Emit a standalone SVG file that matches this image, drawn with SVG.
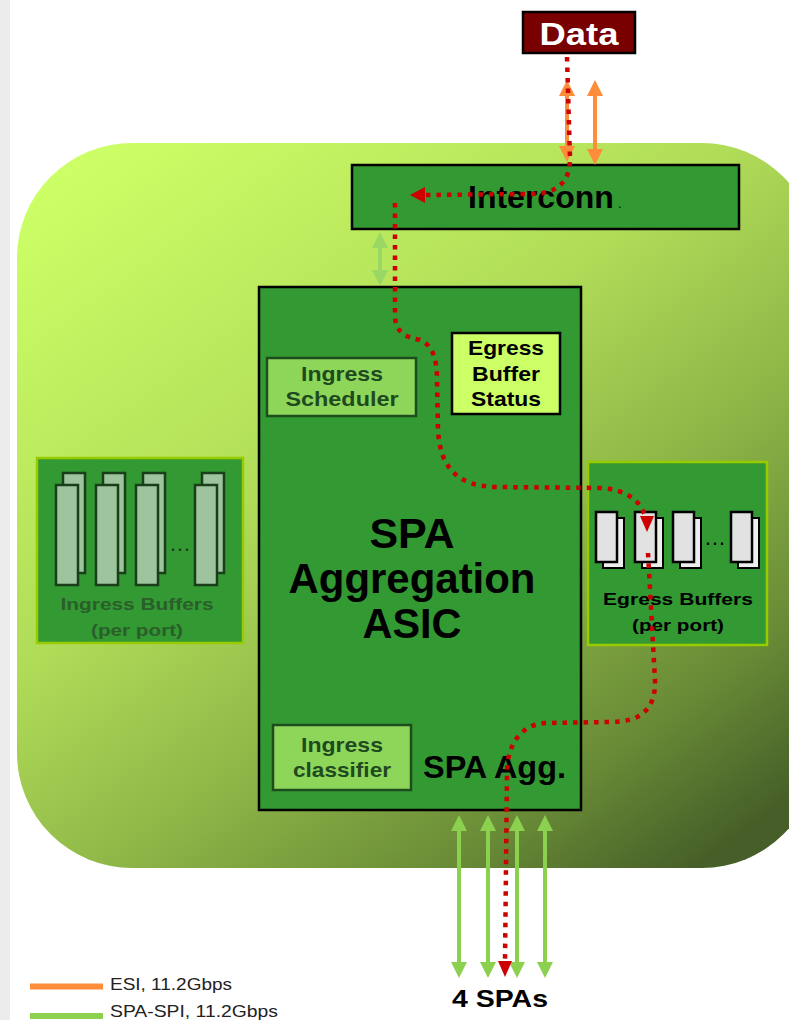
<svg xmlns="http://www.w3.org/2000/svg" width="789" height="1020" viewBox="0 0 789 1020">
<defs>
<linearGradient id="bg" gradientUnits="userSpaceOnUse" x1="100" y1="150" x2="650" y2="900">
<stop offset="0" stop-color="#ccff66"/>
<stop offset="0.4" stop-color="#b0dc58"/>
<stop offset="0.62" stop-color="#8fb848"/>
<stop offset="0.85" stop-color="#688a36"/>
<stop offset="1" stop-color="#465f28"/>
</linearGradient>
<marker id="ao" viewBox="0 0 16 16" refX="4" refY="8" markerWidth="16" markerHeight="16" markerUnits="userSpaceOnUse" orient="auto-start-reverse">
<path d="M0,0 L16,8 L0,16 z" fill="#ff8c3a"/>
</marker>
<marker id="ag" viewBox="0 0 16 16" refX="4" refY="8" markerWidth="16" markerHeight="16" markerUnits="userSpaceOnUse" orient="auto-start-reverse">
<path d="M0,0 L16,8 L0,16 z" fill="#8cd04f"/>
</marker>
<marker id="ag2" viewBox="0 0 16 16" refX="4" refY="8" markerWidth="16" markerHeight="16" markerUnits="userSpaceOnUse" orient="auto-start-reverse">
<path d="M0,0 L16,8 L0,16 z" fill="#9ad866"/>
</marker>
</defs>
<style>
.t{font-family:"Liberation Sans",Arial,sans-serif}
.b{font-weight:bold}
.box{fill:#339933;stroke:#000;stroke-width:2.5}
.lite{fill:#8ed65a;stroke:#1d4d1d;stroke-width:2.5}
.dg{fill:#1f4a1f}
.buf{fill:#339933;stroke:#99cc00;stroke-width:2.5}
.col{fill:#9dc49d;stroke:#1a3d1a;stroke-width:2.5}
.pg{fill:#e2e2e2;stroke:#000;stroke-width:2.5}
.pgb{fill:#eeeeee;stroke:#000;stroke-width:2}
.org{stroke:#ff8c3a;stroke-width:4;fill:none}
.grn{stroke:#8cd04f;stroke-width:4;fill:none}
.red{stroke:#cc0000;stroke-width:4.5;fill:none;stroke-dasharray:4.5 6}
.rh{fill:#cc0000}
</style>
<rect x="0" y="0" width="789" height="1020" fill="#ffffff"/>
<rect x="0" y="0" width="10" height="1020" fill="#ececec"/>
<rect x="17" y="143" width="800" height="725" rx="115" ry="115" fill="url(#bg)"/>

<g id="data">
<rect x="523" y="12" width="112" height="41" fill="#780000" stroke="#000" stroke-width="2.5"/>
<text class="t b" x="579" y="45" font-size="32" fill="#ffffff" text-anchor="middle" textLength="79" lengthAdjust="spacingAndGlyphs">Data</text>
</g>

<g id="interconn">
<rect class="box" x="352" y="165" width="387" height="64"/>
<text class="t b" x="468" y="208" font-size="32" fill="#000">Interconn</text>
<text class="t" x="618" y="208" font-size="13" fill="#000">.</text>
</g>

<g id="asic">
<rect class="box" x="259" y="287" width="322" height="523"/>
<text class="t b" x="412" y="548" font-size="43" text-anchor="middle" fill="#000">SPA</text>
<text class="t b" x="412" y="593" font-size="43" text-anchor="middle" fill="#000" textLength="247" lengthAdjust="spacingAndGlyphs">Aggregation</text>
<text class="t b" x="412" y="638" font-size="43" text-anchor="middle" fill="#000" textLength="99" lengthAdjust="spacingAndGlyphs">ASIC</text>
<text class="t b" x="423" y="778" font-size="31" fill="#000" textLength="143" lengthAdjust="spacingAndGlyphs">SPA Agg.</text>
</g>

<g id="ingress-scheduler">
<rect class="lite" x="267" y="358" width="149" height="58"/>
<text class="t b dg" x="342" y="381" font-size="21" text-anchor="middle" textLength="82" lengthAdjust="spacingAndGlyphs">Ingress</text>
<text class="t b dg" x="342" y="406" font-size="21" text-anchor="middle" textLength="113" lengthAdjust="spacingAndGlyphs">Scheduler</text>
</g>

<g id="egress-buffer-status">
<rect x="452" y="333" width="108" height="81" fill="#ccff66" stroke="#000" stroke-width="2.5"/>
<text class="t b" x="506" y="355" font-size="21" text-anchor="middle" fill="#000" textLength="76" lengthAdjust="spacingAndGlyphs">Egress</text>
<text class="t b" x="506" y="381" font-size="21" text-anchor="middle" fill="#000" textLength="68" lengthAdjust="spacingAndGlyphs">Buffer</text>
<text class="t b" x="506" y="406" font-size="21" text-anchor="middle" fill="#000" textLength="70" lengthAdjust="spacingAndGlyphs">Status</text>
</g>

<g id="ingress-classifier">
<rect class="lite" x="273" y="725" width="138" height="65"/>
<text class="t b dg" x="342" y="752" font-size="21" text-anchor="middle" textLength="82" lengthAdjust="spacingAndGlyphs">Ingress</text>
<text class="t b dg" x="342" y="777" font-size="21" text-anchor="middle" textLength="98" lengthAdjust="spacingAndGlyphs">classifier</text>
</g>

<g id="ingress-buffers">
<rect class="buf" x="37" y="458" width="206" height="185"/>
<rect class="col" x="63" y="473" width="22" height="100"/>
<rect class="col" x="56" y="485" width="22" height="100"/>
<rect class="col" x="103" y="473" width="22" height="100"/>
<rect class="col" x="96" y="485" width="22" height="100"/>
<rect class="col" x="143" y="473" width="22" height="100"/>
<rect class="col" x="136" y="485" width="22" height="100"/>
<rect class="col" x="202" y="473" width="22" height="100"/>
<rect class="col" x="195" y="485" width="22" height="100"/>
<text class="t" x="180" y="551" font-size="22" text-anchor="middle" fill="#1a3d1a">…</text>
<text class="t b" x="137" y="610" font-size="17" text-anchor="middle" fill="#2a5e2a" textLength="153" lengthAdjust="spacingAndGlyphs">Ingress Buffers</text>
<text class="t b" x="137" y="636" font-size="17" text-anchor="middle" fill="#2a5e2a" textLength="92" lengthAdjust="spacingAndGlyphs">(per port)</text>
</g>

<g id="egress-buffers">
<rect class="buf" x="588" y="462" width="179" height="183"/>
<rect class="pgb" x="603" y="518" width="21" height="50"/>
<rect class="pg" x="596" y="512" width="21" height="50"/>
<rect class="pgb" x="642" y="518" width="21" height="50"/>
<rect class="pg" x="635" y="512" width="21" height="50"/>
<rect class="pgb" x="680" y="518" width="21" height="50"/>
<rect class="pg" x="673" y="512" width="21" height="50"/>
<rect class="pgb" x="738" y="518" width="21" height="50"/>
<rect class="pg" x="731" y="512" width="21" height="50"/>
<text class="t" x="715" y="545" font-size="22" text-anchor="middle" fill="#000">…</text>
<text class="t b" x="678" y="605" font-size="17" text-anchor="middle" fill="#000" textLength="150" lengthAdjust="spacingAndGlyphs">Egress Buffers</text>
<text class="t b" x="678" y="631" font-size="17" text-anchor="middle" fill="#000" textLength="92" lengthAdjust="spacingAndGlyphs">(per port)</text>
</g>

<g id="connectors">
<line class="org" x1="567" y1="92" x2="567" y2="150" marker-start="url(#ao)" marker-end="url(#ao)"/>
<line class="org" x1="595" y1="92" x2="595" y2="153" marker-start="url(#ao)" marker-end="url(#ao)"/>
<line x1="380" y1="244" x2="380" y2="274" stroke="#9ad866" stroke-width="4" marker-start="url(#ag2)" marker-end="url(#ag2)"/>
<line class="grn" x1="459" y1="827" x2="459" y2="966" marker-start="url(#ag)" marker-end="url(#ag)"/>
<line class="grn" x1="488" y1="827" x2="488" y2="966" marker-start="url(#ag)" marker-end="url(#ag)"/>
<line class="grn" x1="517" y1="827" x2="517" y2="966" marker-start="url(#ag)" marker-end="url(#ag)"/>
<line class="grn" x1="545" y1="827" x2="545" y2="966" marker-start="url(#ag)" marker-end="url(#ag)"/>
<path class="red" d="M567,57 L570,158 C570,180 560,194 530,194 L426,195"/>
<polygon class="rh" points="410,195 425,187 425,203"/>
<path class="red" d="M395,203 L395,315 C395,332 405,337 420,340 C433,345 437,360 437,380 L438,430 C440,470 460,486 495,487 L600,488 C625,489 640,500 645,516"/>
<polygon class="rh" points="647,532 640,516 654,516"/>
<path class="red" d="M648,553 L655,680 C656,710 640,722 610,722 L545,723 C520,725 508,745 507,770 L505,962"/>
<polygon class="rh" points="505,977 498,961 512,961"/>
</g>

<g id="legend">
<line x1="30" y1="986.5" x2="103" y2="986.5" stroke="#ff8c3a" stroke-width="6"/>
<line x1="30" y1="1016" x2="103" y2="1016" stroke="#8cd04f" stroke-width="6"/>
<text class="t" x="110" y="990" font-size="17" fill="#222" textLength="122" lengthAdjust="spacingAndGlyphs">ESI, 11.2Gbps</text>
<text class="t" x="110" y="1017" font-size="17" fill="#222" textLength="168" lengthAdjust="spacingAndGlyphs">SPA-SPI, 11.2Gbps</text>
<text class="t b" x="500" y="1007" font-size="24" text-anchor="middle" fill="#000" textLength="96" lengthAdjust="spacingAndGlyphs">4 SPAs</text>
</g>
</svg>
